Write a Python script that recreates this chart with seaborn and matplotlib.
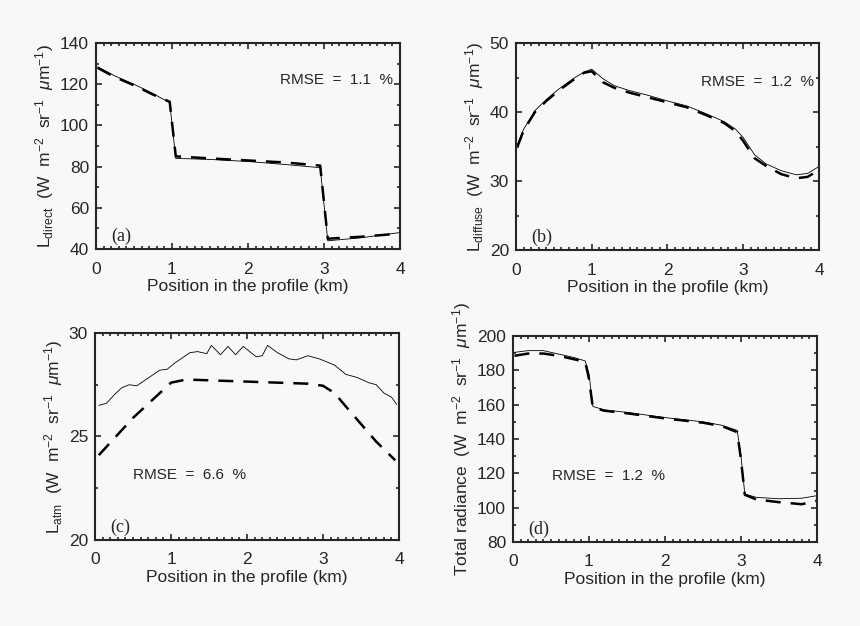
"""Profiles of measured vs. simulated radiance along a 4 km transect (panels a-d)."""

import matplotlib.pyplot as plt
import numpy as np
import pandas as pd
import seaborn as sns
from matplotlib.ticker import MultipleLocator

sns.set_style("ticks")
plt.rcParams["font.family"] = ["Liberation Sans", "DejaVu Sans"]
plt.rcParams["mathtext.fontset"] = "custom"
plt.rcParams["mathtext.rm"] = "Liberation Sans"
plt.rcParams["mathtext.it"] = "Liberation Sans:italic"

# (a) direct radiance
x_direct = [0.02, 0.25, 0.5, 0.75, 0.97, 1.05, 1.5, 2.0, 2.5, 2.95, 3.05, 3.5, 4.0]
direct_solid = [128.5, 124, 120, 115.5, 111, 84, 83.5, 82.5, 81, 79.5, 44, 45.5, 48]
direct_dashed = [128, 123.5, 119.5, 115, 111.5, 85, 84, 83, 82, 80.5, 45, 46, 47.5]

# (b) diffuse radiance
x_diffuse = [0.02, 0.1, 0.25, 0.4, 0.55, 0.75, 0.9, 1.0, 1.15, 1.3, 1.5, 1.75,
             2.0, 2.25, 2.5, 2.75, 2.9, 3.0, 3.15, 3.3, 3.5, 3.7, 3.85, 4.0]
diffuse_solid = [35.3, 37.5, 40.2, 41.8, 43.2, 44.8, 45.8, 46.2, 44.8, 43.8, 43.1, 42.4,
                 41.6, 40.9, 39.8, 38.6, 37.5, 36.3, 33.8, 32.5, 31.5, 30.9, 31.1, 32.1]
diffuse_dashed = [35.0, 37.3, 40.0, 41.6, 43.0, 44.6, 45.7, 45.9, 44.3, 43.5, 42.8, 42.1,
                  41.4, 40.7, 39.6, 38.4, 37.2, 35.8, 33.3, 32.2, 31.0, 30.4, 30.6, 31.6]

# (c) atmospheric radiance
x_atm_solid = [0.05, 0.15, 0.25, 0.35, 0.45, 0.55, 0.65, 0.75, 0.85, 0.95, 1.05, 1.15,
               1.25, 1.35, 1.47, 1.53, 1.65, 1.75, 1.85, 1.95, 2.12, 2.2, 2.27, 2.4,
               2.55, 2.65, 2.8, 2.95, 3.05, 3.15, 3.3, 3.45, 3.6, 3.7, 3.8, 3.9, 3.97]
atm_solid = [26.5, 26.6, 27.0, 27.35, 27.5, 27.45, 27.7, 27.95, 28.2, 28.25, 28.55, 28.8,
             29.05, 29.1, 29.0, 29.4, 28.95, 29.35, 28.95, 29.35, 28.85, 28.9, 29.4, 29.05,
             28.75, 28.7, 28.9, 28.75, 28.6, 28.45, 28.0, 27.85, 27.6, 27.5, 27.1, 26.9, 26.55]
x_atm_dashed = [0.05, 0.5, 1.0, 1.2, 2.0, 2.8, 3.0, 3.15, 3.3, 3.5, 3.7, 3.95]
atm_dashed = [24.1, 25.9, 27.6, 27.75, 27.65, 27.55, 27.45, 27.1, 26.45, 25.6, 24.75, 23.85]

# (d) total radiance
x_total = [0.02, 0.2, 0.4, 0.6, 0.8, 0.95, 1.0, 1.05, 1.2, 1.5, 2.0, 2.5, 2.75,
           2.95, 3.0, 3.05, 3.2, 3.5, 3.8, 4.0]
total_solid = [190.5, 191.5, 191.5, 189.5, 187.5, 185.5, 178, 159, 157, 155.5, 152.5, 150, 148,
               145, 130, 108, 106, 105.2, 105.5, 107]
total_dashed = [188.5, 189.8, 189.8, 188.5, 186.5, 185, 175, 158.5, 156.5, 155, 152, 149.5, 147.5,
                144, 128, 107.5, 104.8, 103.2, 102, 104]

UNITS = r"(W  m$^{-2}$  sr$^{-1}$  $\mu$m$^{-1}$)"
panels = [
    dict(pos=[0.1116, 0.6022, 0.3535, 0.329], xs=x_direct, ys=direct_solid,
         xd=x_direct, yd=direct_dashed, ylim=(40, 140), ystep=20,
         ylabel=r"L$_{\mathrm{direct}}$  " + UNITS, tag="(a)",
         rmse="RMSE  =  1.1  %", rpos=(0.977, 0.82, "right")),
    dict(pos=[0.6, 0.6006, 0.3523, 0.3307], xs=x_diffuse, ys=diffuse_solid,
         xd=x_diffuse, yd=diffuse_dashed, ylim=(20, 50), ystep=10,
         ylabel=r"L$_{\mathrm{diffuse}}$  " + UNITS, tag="(b)",
         rmse="RMSE  =  1.2  %", rpos=(0.985, 0.81, "right")),
    dict(pos=[0.1105, 0.1374, 0.3535, 0.3307], xs=x_atm_solid, ys=atm_solid,
         xd=x_atm_dashed, yd=atm_dashed, ylim=(20, 30), ystep=5,
         ylabel=r"L$_{\mathrm{atm}}$  " + UNITS, tag="(c)",
         rmse="RMSE  =  6.6  %", rpos=(0.125, 0.314, "left")),
    dict(pos=[0.5965, 0.1342, 0.3535, 0.329], xs=x_total, ys=total_solid,
         xd=x_total, yd=total_dashed, ylim=(80, 200), ystep=20,
         ylabel="Total radiance  " + UNITS, tag="(d)",
         rmse="RMSE  =  1.2  %", rpos=(0.128, 0.322, "left")),
]


def main():
    fig = plt.figure(figsize=(8.6, 6.26), dpi=100, facecolor="#f8f8f8")

    for p in panels:
        ax = fig.add_axes(p["pos"])
        ax.set_facecolor("#f8f8f8")
        solid = pd.DataFrame({"x": p["xs"], "y": p["ys"]})
        dashed = pd.DataFrame({"x": p["xd"], "y": p["yd"]})
        sns.lineplot(data=solid, x="x", y="y", ax=ax, color="black", lw=0.6)
        sns.lineplot(data=dashed, x="x", y="y", ax=ax, color="black", lw=1.8,
                     dashes=False, linestyle=(0, (6, 4)))

        ax.set_xlim(0, 4)
        ax.set_ylim(*p["ylim"])
        ax.xaxis.set_major_locator(MultipleLocator(1))
        ax.xaxis.set_minor_locator(MultipleLocator(0.1))
        ax.yaxis.set_major_locator(MultipleLocator(p["ystep"]))
        ax.yaxis.set_minor_locator(MultipleLocator(p["ystep"] / 2))
        ax.tick_params(which="both", direction="in", top=True, right=True,
                       labelsize=12.5, width=1.2)
        ax.tick_params(axis="x", which="both", pad=9)
        ax.tick_params(axis="y", which="both", pad=5)
        ax.tick_params(which="major", length=4)
        ax.tick_params(which="minor", length=2)
        for s in ax.spines.values():
            s.set_linewidth(1.5)

        ax.set_xlabel("Position in the profile (km)", fontsize=12.5, labelpad=2)
        ax.set_ylabel(p["ylabel"], fontsize=12.5, labelpad=3)
        ax.text(0.05, 0.02, p["tag"], transform=ax.transAxes, fontsize=13,
                family=["Liberation Serif", "DejaVu Serif"], va="bottom")
        rx, ry, ha = p["rpos"]
        ax.text(rx, ry, p["rmse"], transform=ax.transAxes, fontsize=11,
                ha=ha, va="center")

    fig.savefig("out.png", dpi=100, facecolor=fig.get_facecolor())


if __name__ == '__main__':
    main()
